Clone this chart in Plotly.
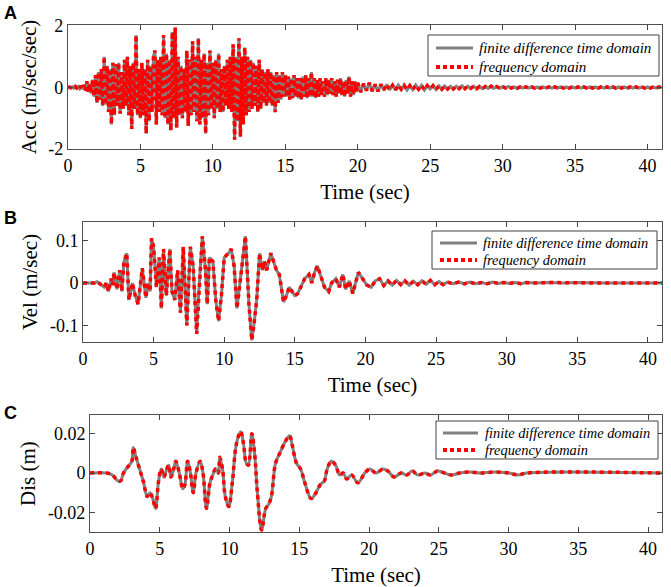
import numpy as np
import plotly.graph_objs as go

# ---- data ----
# acceleration, sampled every 0.1 s from 0 to 20 s (m/sec/sec)
acc_head = [
    0, 0.01, -0.01, 0.02, -0.02, 0.03, -0.02, 0.03, -0.04, 0.05,
    -0.05, 0.08, -0.1, 0.2, -0.15, 0.12, -0.2, 0.25, -0.3, 0.4,
    -0.5, 0.5, -0.4, 0.6, -0.6, 1.0, -0.55, 0.7, -0.8, 0.6,
    -1.2, 0.8, -0.9, 0.75, -0.6, 0.8, -0.85, 0.5, -0.7, 0.9,
    -0.6, 1.0, -0.9, 0.7, -1.35, 0.8, -0.7, 1.7, -0.9, 0.6,
    -1.0, 0.8, -0.9, 0.6, -1.5, 0.9, -1.1, 0.7, -0.8, 1.0,
    1.2, -1.2, 0.9, -0.8, 1.0, -0.9, 1.7, -1.0, 1.1, -1.2,
    0.9, -1.4, 1.8, -1.0, 1.95, -1.3, 1.0, -0.9, 0.7, -1.0,
    0.6, -0.8, 1.2, -1.25, 0.9, -0.9, 1.5, -0.8, 1.0, -1.1,
    1.6, -1.2, 0.9, -1.0, 1.1, -1.5, 0.8, -0.9, 1.2, -0.7,
    0.8, -1.0, 0.9, -0.7, 1.1, -0.8, 0.6, -0.8, 0.7, -0.6,
    0.9, -0.7, 1.0, -0.8, 1.4, -1.7, 1.0, -1.1, 1.6, -1.6,
    1.0, -1.2, 1.3, -0.9, 1.0, -0.8, 0.9, -0.7, 0.8, -0.6,
    0.7, -0.8, 0.9, -0.7, 0.6, -0.5, 0.5, -0.6, 0.6, -0.5,
    0.5, -0.6, 0.4, -0.8, 0.5, -0.5, 0.4, -0.4, 0.5, -0.3,
    0.4, -0.3, 0.35, -0.4, 0.3, -0.35, 0.4, -0.3, 0.3, -0.35,
    0.3, -0.4, 0.35, -0.3, 0.4, -0.35, 0.3, -0.3, 0.5, -0.3,
    0.3, -0.35, 0.25, -0.3, 0.3, -0.25, 0.2, -0.3, 0.3, -0.25,
    0.25, -0.2, 0.3, -0.25, 0.2, -0.3, 0.25, -0.2, 0.3, -0.25,
    0.2, -0.3, 0.25, -0.2, 0.35, -0.3, 0.2, -0.25, 0.2, -0.15,
    0.15,
]
# acceleration, sampled every 0.2 s from 20.2 to 41 s
acc_tail = [
    -0.15, 0.12, -0.1, 0.15, -0.12, 0.1, -0.13, 0.1, -0.08, 0.1,
    -0.08, 0.07, -0.09, 0.08, -0.06, 0.07, -0.08, 0.06, -0.07, 0.08,
    -0.06, 0.07, -0.08, 0.06, -0.05, 0.06, -0.07, 0.05, -0.06, 0.05,
    -0.05, 0.04, -0.05, 0.04, -0.04, 0.05, -0.04, 0.04, -0.03, 0.04,
    -0.04, 0.03, -0.04, 0.03, -0.03, 0.04, -0.03, 0.03, -0.03, 0.03,
    -0.02, 0.03, -0.02, 0.02, -0.03, 0.02, -0.02, 0.02, -0.02, 0.02,
    -0.02, 0.02, -0.02, 0.02, -0.02, 0.02, -0.02, 0.02, -0.02, 0.02,
    -0.02, 0.02, -0.02, 0.02, -0.02, 0.02, -0.02, 0.02, -0.02, 0.02,
    -0.02, 0.02, -0.02, 0.02, -0.02, 0.02, -0.02, 0.02, -0.02, 0.02,
    -0.02, 0.02, -0.02, 0.02, -0.02, 0.02, -0.02, 0.02, -0.02, 0.02,
    -0.02, 0.02, -0.02, 0.02, -0.02,
]

vel_t = [0, 0.8, 1.0, 1.3, 1.5, 1.65, 1.8, 2.0, 2.1, 2.2, 2.4, 2.6, 2.75, 2.9,
         3.1, 3.25, 3.5, 3.7, 3.9, 4.2, 4.45, 4.6, 4.75, 4.85, 5.0, 5.2, 5.4,
         5.55, 5.7, 5.9, 6.15, 6.3, 6.5, 6.7, 6.9, 7.1, 7.35, 7.6, 7.8, 8.05,
         8.2, 8.45, 8.65, 8.8, 8.95, 9.2, 9.4, 9.6, 9.8, 10.0, 10.3, 10.5, 10.7,
         10.9, 11.05, 11.2, 11.5, 11.75, 11.95, 12.1, 12.3, 12.5, 12.7, 12.85,
         13.0, 13.3, 13.5, 13.7, 13.9, 14.2, 14.4, 14.6, 14.8, 15.0, 15.2, 15.4,
         15.7, 16.0, 16.2, 16.4, 16.6, 16.8, 17.1, 17.4, 17.6, 17.9, 18.15,
         18.4, 18.6, 18.85, 19.1, 19.5, 19.8, 20.1, 20.4, 20.7, 21.0, 21.3,
         21.6, 21.9, 22.2, 22.5, 22.8, 23.1, 23.4, 23.7, 24.0, 24.3, 24.6,
         24.9, 25.2, 25.5, 25.8, 26.2, 26.6, 27.0, 27.4, 27.8, 28.2, 28.6,
         29.0, 29.4, 29.8, 30.2, 30.6, 31.0, 31.4, 32.0, 33.0, 34.0, 35.0,
         36.0, 37.0, 38.0, 39.0, 40.0, 41.0]
vel_v = [0, 0, 0.003, -0.005, -0.01, 0.0, -0.02, 0.01, -0.005, 0.025, -0.015,
         0.03, -0.02, 0.05, 0.07, -0.04, 0.0, -0.03, -0.05, 0.035, -0.035, 0.0,
         -0.02, 0.105, 0.085, -0.01, 0.06, -0.06, 0.08, -0.03, 0.08, -0.02,
         -0.04, 0.03, -0.07, 0.085, -0.1, 0.085, 0.04, -0.12, -0.02, 0.11, 0.04,
         -0.05, 0.06, 0.05, -0.04, -0.09, -0.03, 0.06, 0.07, 0.08, 0.04, -0.06,
         -0.02, 0.03, 0.11, -0.05, -0.135, -0.1, -0.04, 0.07, 0.03, 0.05, 0.03,
         0.07, 0.05, 0.03, 0.02, -0.045, -0.03, -0.01, -0.02, -0.03, -0.025,
         -0.01, 0.01, 0.02, 0.0, 0.025, 0.04, 0.02, -0.01, -0.02, 0.0, 0.01,
         -0.01, 0.02, -0.015, 0.005, -0.025, 0.025, 0.01, -0.005, -0.01, 0.005,
         0.01, -0.006, 0.005, -0.005, 0.006, -0.004, 0.005, -0.005, 0.004,
         -0.004, 0.005, -0.003, 0.006, -0.004, 0.003, -0.004, 0.002, -0.002,
         0.002, -0.002, 0.002, -0.002, 0.001, -0.002, 0.002, -0.001, 0.001,
         -0.001, 0.001, -0.002, 0.001, 0.0, 0.001, 0.0, 0.001, 0.0, 0.0, 0.0,
         0.0, 0.0, 0.0]

dis_t = [0, 1.2, 1.6, 2.0, 2.2, 2.4, 2.7, 3.0, 3.1, 3.3, 3.6, 3.85, 4.1, 4.3,
         4.5, 4.7, 4.9, 5.1, 5.3, 5.5, 5.65, 5.8, 6.0, 6.15, 6.4, 6.65, 6.8,
         7.0, 7.2, 7.4, 7.6, 7.9, 8.1, 8.35, 8.6, 8.8, 9.0, 9.2, 9.3, 9.5, 9.7,
         9.95, 10.2, 10.5, 10.8, 11.0, 11.2, 11.35, 11.6, 11.8, 12.0, 12.3,
         12.6, 12.8, 13.0, 13.3, 13.6, 14.0, 14.3, 14.5, 14.8, 15.1, 15.4,
         15.85, 16.2, 16.5, 16.8, 17.0, 17.3, 17.6, 17.9, 18.15, 18.4, 18.75,
         19.2, 19.7, 20.05, 20.5, 21.0, 21.35, 21.8, 22.3, 22.7, 23.1, 23.5,
         24.0, 24.4, 24.9, 25.4, 25.9, 26.5, 27.2, 28.0, 29.0, 30.0, 30.7,
         31.3, 41.0]
dis_v = [0, 0, -0.001, -0.004, -0.004, 0.0, 0.003, 0.006, 0.013, 0.008, 0.001,
         -0.005, -0.012, -0.01, -0.013, -0.018, -0.005, 0.002, -0.002, 0.002,
         0.004, -0.002, 0.002, 0.006, 0.0, -0.008, -0.006, 0.006, 0.0, -0.01,
         0.0, 0.006, 0.0, -0.018, -0.005, -0.001, 0.002, 0.0, 0.008, 0.002,
         -0.012, -0.017, -0.005, 0.015, 0.021, 0.015, 0.005, 0.004, 0.02, 0.01,
         -0.01, -0.029, -0.018, -0.016, -0.012, 0.005, 0.01, 0.016, 0.019,
         0.014, 0.005, 0.002, -0.005, -0.013, -0.01, -0.006, -0.004, 0.002,
         0.006, 0.004, -0.001, 0.0, -0.003, -0.001, -0.005, 0.0, 0.002, 0.0,
         0.002, 0.001, -0.002, 0.0, -0.001, 0.001, -0.001, 0.0, -0.001, 0.001,
         0.0, -0.001, 0.0, 0.0005, 0.0, 0.0005, 0.0, -0.001, 0.0, 0.0]

acc_t = np.concatenate([np.arange(len(acc_head)) * 0.1,
                        20.0 + 0.2 * (np.arange(len(acc_tail)) + 1)])
acc_v = acc_head + acc_tail

x_ticks = [0, 5, 10, 15, 20, 25, 30, 35, 40]
acc_ticks, acc_labels = [-2, 0, 2], ['-2', '0', '2']
vel_ticks, vel_labels = [-0.1, 0, 0.1], ['-0.1', '0', '0.1']
dis_ticks, dis_labels = [-0.02, 0, 0.02], ['-0.02', '0', '0.02']

names = ['finite difference time domain', 'frequency domain']

W, H = 671, 587
serif = 'Liberation Serif, Times New Roman, serif'
GRAY, RED = '#808080', '#ff0000'

fig = go.Figure()
panels = [(acc_t, acc_v, '', 'linear'),
          (vel_t, vel_v, '2', 'linear'),
          (dis_t, dis_v, '3', 'spline')]
for t, v, n, shape in panels:
    fig.add_trace(go.Scatter(x=t, y=v, mode='lines', name=names[0],
                             xaxis='x' + n, yaxis='y' + n, showlegend=False,
                             line=dict(color=GRAY, width=3, shape=shape)))
    fig.add_trace(go.Scatter(x=t, y=v, mode='lines', name=names[1],
                             xaxis='x' + n, yaxis='y' + n, showlegend=False,
                             line=dict(color=RED, width=3.5, dash='4px,4px',
                                       shape=shape)))


def xax(dom, anchor):
    return dict(domain=dom, anchor=anchor, range=[0, 41], tickvals=x_ticks,
                automargin=False,
                ticks='inside', ticklen=5, mirror='ticks', showline=True,
                linecolor='#505050', linewidth=1, showgrid=False, zeroline=False,
                tickfont=dict(family=serif, size=18, color='black'),
                title=dict(text='Time (sec)', standoff=9,
                           font=dict(family=serif, size=21, color='black')))


def yax(dom, anchor, rng, tv, tt, title):
    return dict(domain=dom, anchor=anchor, range=rng, tickvals=tv, ticktext=tt,
                automargin=False,
                ticks='inside', ticklen=5, mirror='ticks', showline=True,
                linecolor='#505050', linewidth=1, showgrid=False, zeroline=False,
                tickfont=dict(family=serif, size=18, color='black'),
                title=dict(text=title, standoff=6,
                           font=dict(family=serif, size=21, color='black')))


# hand-drawn legend boxes (pixel positions of box, rows, sample line, text)
shapes, annots = [], []
legend_boxes = [
    # x0, x1, y0, y1, row1, row2, line_x0, line_x1, text_x, font size
    (428, 659, 35, 76, 48, 67, 436, 473, 477, 15),
    (432, 657, 231, 269, 243, 260, 440, 477, 481, 14.4),
    (436, 658, 421, 459, 433, 450, 443, 478, 483, 14.4),
]
px = lambda v: v / W
py = lambda v: 1 - v / H
for x0, x1, y0, y1, r1, r2, lx0, lx1, tx, fs in legend_boxes:
    shapes.append(dict(type='rect', xref='paper', yref='paper',
                       x0=px(x0), x1=px(x1), y0=py(y0), y1=py(y1),
                       line=dict(color='#404040', width=1), fillcolor='white',
                       layer='above'))
    shapes.append(dict(type='line', xref='paper', yref='paper',
                       x0=px(lx0), x1=px(lx1), y0=py(r1), y1=py(r1),
                       line=dict(color=GRAY, width=3), layer='above'))
    shapes.append(dict(type='line', xref='paper', yref='paper',
                       x0=px(lx0), x1=px(lx1), y0=py(r2), y1=py(r2),
                       line=dict(color=RED, width=4, dash='4px,3px'),
                       layer='above'))
    for row, name in ((r1, names[0]), (r2, names[1])):
        annots.append(dict(text='<i>%s</i>' % name, x=px(tx), y=py(row),
                           xref='paper', yref='paper', xanchor='left',
                           yanchor='middle', showarrow=False,
                           font=dict(family=serif, size=fs, color='black')))

for letter, yy in (('A', 13), ('B', 218), ('C', 413)):
    annots.append(dict(text='<b>%s</b>' % letter, x=px(2), y=py(yy),
                       xref='paper', yref='paper', xanchor='left',
                       yanchor='middle', showarrow=False,
                       font=dict(family='Liberation Sans, Arial', size=18,
                                 color='black')))

fig.update_layout(
    width=W, height=H, autosize=False,
    margin=dict(l=0, r=0, t=0, b=0, autoexpand=False),
    paper_bgcolor='white', plot_bgcolor='white',
    xaxis=xax([0.1013, 0.9866], 'y'),
    yaxis=yax([0.7462, 0.9574], 'x', [-2, 2.03], acc_ticks, acc_labels,
              'Acc (m/sec/sec)'),
    xaxis2=xax([0.1237, 0.9866], 'y2'),
    yaxis2=yax([0.4174, 0.6218], 'x2', [-0.139, 0.1435], vel_ticks, vel_labels,
               'Vel (m/sec)'),
    xaxis3=xax([0.1341, 0.9866], 'y3'),
    yaxis3=yax([0.0937, 0.2930], 'x3', [-0.030, 0.0295], dis_ticks, dis_labels,
               'Dis (m)'),
    shapes=shapes,
    annotations=annots,
    showlegend=False,
)

fig.write_html('out.html', config={'displayModeBar': False},
               post_script="document.body.style.margin='0';")
